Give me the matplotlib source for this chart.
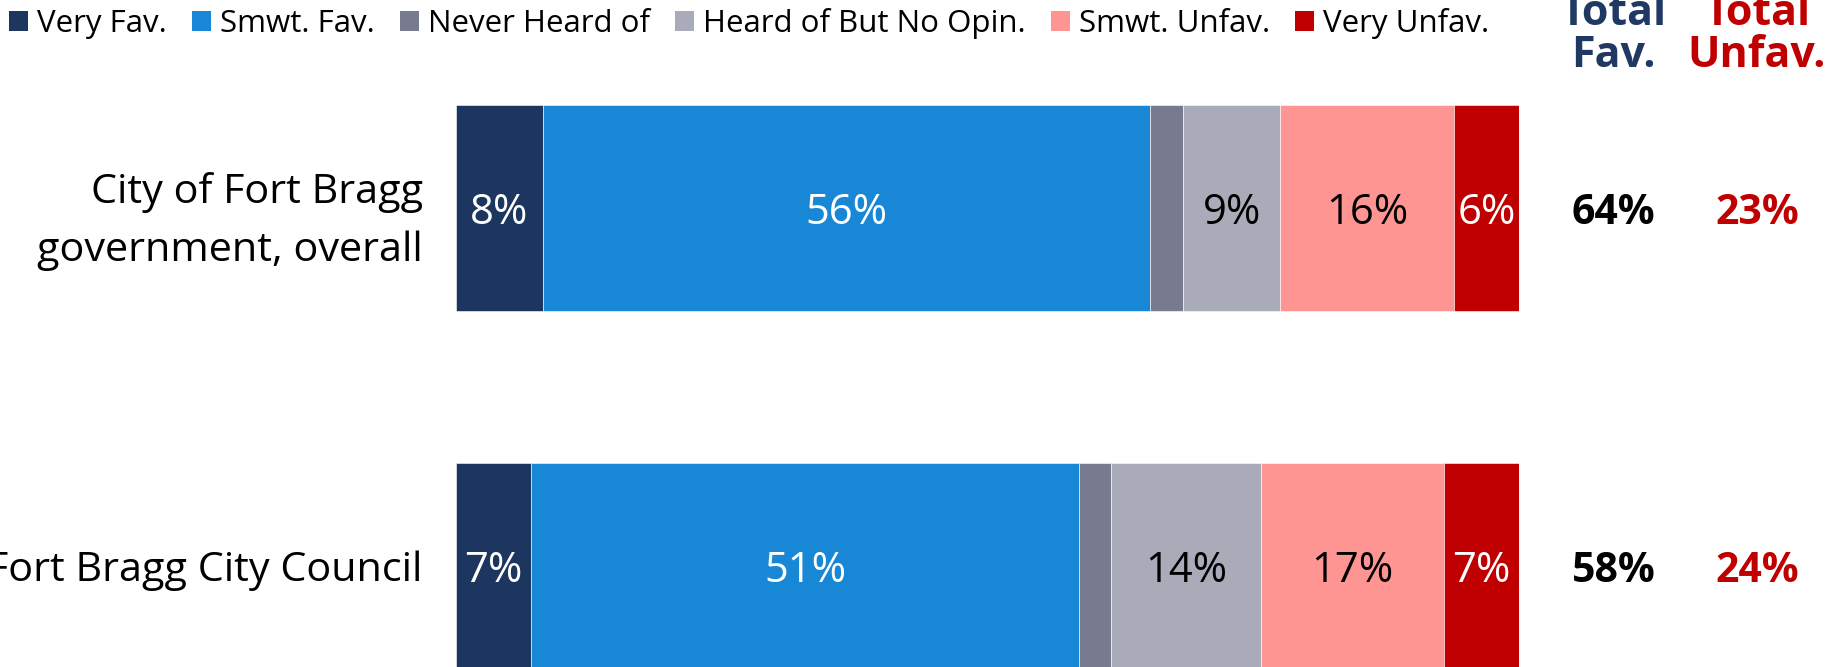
import matplotlib
matplotlib.use('Agg')
import matplotlib.pyplot as plt
import numpy as np
from matplotlib.patches import Patch

plt.rcParams['font.family'] = ['Open Sans', 'DejaVu Sans']

categories = ['City of Fort Bragg\ngovernment, overall', 'Fort Bragg City Council']
series_names = ['Very Fav.', 'Smwt. Fav.', 'Never Heard of', 'Heard of But No Opin.',
                'Smwt. Unfav.', 'Very Unfav.']
very_fav = [8, 7]
smwt_fav = [56, 51]
never_heard = [3, 3]
no_opinion = [9, 14]
smwt_unfav = [16, 17]
very_unfav = [6, 7]
total_fav = [64, 58]
total_unfav = [23, 24]

colors = ['#1d365f', '#1888d6', '#787a8f', '#a9abb8', '#ff9593', '#c00000']
label_colors = ['white', 'white', None, 'black', 'black', 'white']

values = np.array([very_fav, smwt_fav, never_heard, no_opinion, smwt_unfav, very_unfav], dtype=float)
# 100% stacked, like the original excel chart
shares = values / values.sum(axis=0) * 100

fig = plt.figure(figsize=(18.33, 6.67), dpi=100)
ax = fig.add_axes([0.2488, 0.0, 0.5799, 1.0])

ys = np.arange(len(categories))
left = np.zeros(len(categories))
for i, name in enumerate(series_names):
    ax.barh(ys, shares[i], left=left, height=0.575, color=colors[i], label=name,
            edgecolor='white', linewidth=0.4)
    if label_colors[i] is not None:
        for j in range(len(categories)):
            ax.text(left[j] + shares[i][j] / 2, ys[j], '{:d}%'.format(int(values[i][j])),
                    ha='center', va='center_baseline', color=label_colors[i], fontsize=30)
    left += shares[i]

ax.set_xlim(0, 100)
ax.set_ylim(1.282, -0.581)
ax.set_yticks(ys)
ax.set_yticklabels(categories, fontsize=29.8, linespacing=1.55)
ax.tick_params(axis='y', length=0, pad=24)
ax.set_xticks([])
for s in ax.spines.values():
    s.set_visible(False)

fav_x = 108.9
unfav_x = 122.4
for j in range(len(categories)):
    ax.text(fav_x, ys[j], '{:d}%'.format(total_fav[j]), ha='center', va='center_baseline',
            fontsize=29.5, fontweight='bold', color='black', clip_on=False)
    ax.text(unfav_x, ys[j], '{:d}%'.format(total_unfav[j]), ha='center', va='center_baseline',
            fontsize=29.5, fontweight='bold', color='#c00000', clip_on=False)

ax.text(fav_x, -0.485, 'Total\nFav.', ha='center', va='center', fontsize=31,
        fontweight='bold', color='#1f3864', linespacing=0.95, clip_on=False)
ax.text(unfav_x, -0.485, 'Total\nUnfav.', ha='center', va='center', fontsize=31,
        fontweight='bold', color='#c00000', linespacing=0.95, clip_on=False)

handles = [Patch(facecolor=c) for c in colors]
fig.legend(handles, series_names, loc='center left', bbox_to_anchor=(0.005, 0.965),
           ncol=6, frameon=False, fontsize=22.5, handlelength=0.6, handleheight=0.6,
           handletextpad=0.3, columnspacing=0.8, borderpad=0, borderaxespad=0)

fig.savefig('out.png', dpi=100)
